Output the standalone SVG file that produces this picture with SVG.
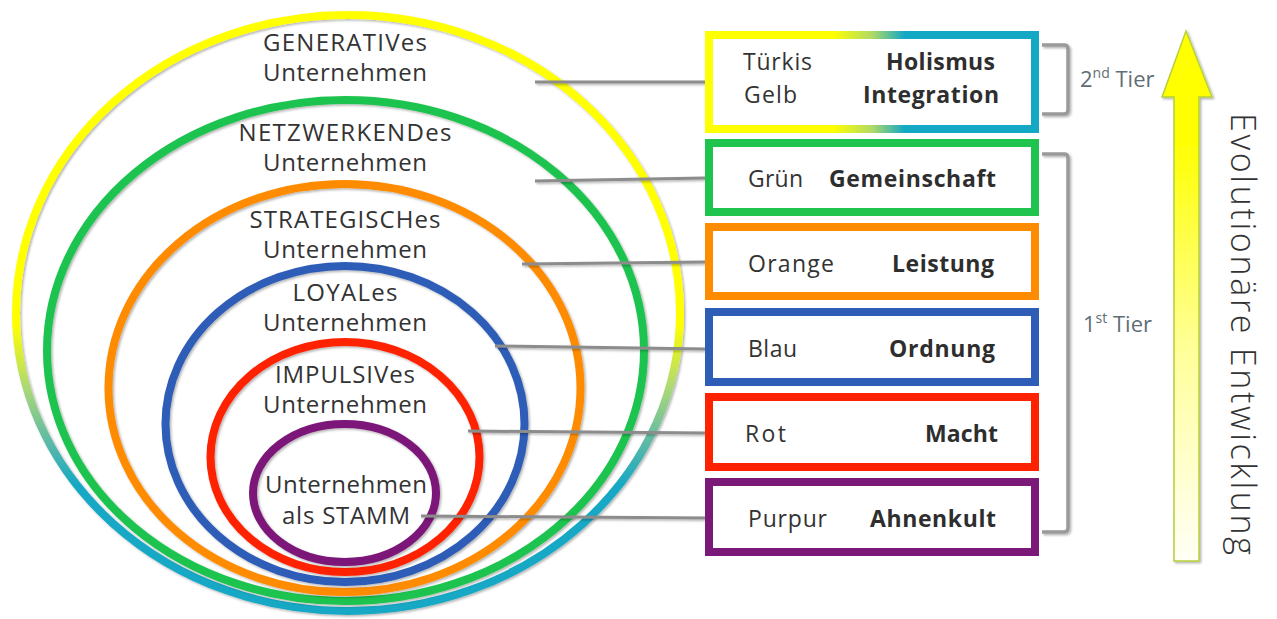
<svg xmlns="http://www.w3.org/2000/svg" width="1277" height="619" viewBox="0 0 1277 619">
<defs>
<filter id="sh" filterUnits="userSpaceOnUse" x="0" y="0" width="1277" height="619">
<feDropShadow dx="1.5" dy="1.5" stdDeviation="1.2" flood-color="#000" flood-opacity="0.3"/>
</filter>
<linearGradient id="ringY" x1="0" y1="0" x2="0" y2="1">
<stop offset="0" stop-color="#ffff00"/>
<stop offset="0.52" stop-color="#ffff00"/>
<stop offset="0.63" stop-color="#a8d77a"/>
<stop offset="0.72" stop-color="#5ab8a8"/>
<stop offset="0.79" stop-color="#14a8c4"/>
<stop offset="1" stop-color="#14a8c4"/>
</linearGradient>
<linearGradient id="boxY" x1="0" y1="0" x2="1" y2="0">
<stop offset="0" stop-color="#ffff00"/>
<stop offset="0.38" stop-color="#ffff00"/>
<stop offset="0.5" stop-color="#b0da66"/>
<stop offset="0.6" stop-color="#14a8c4"/>
<stop offset="1" stop-color="#14a8c4"/>
</linearGradient>
<linearGradient id="arr" x1="0" y1="0" x2="0" y2="1">
<stop offset="0" stop-color="#ffff00"/>
<stop offset="0.2" stop-color="#ffff00"/>
<stop offset="0.6" stop-color="#ffff99"/>
<stop offset="1" stop-color="#fffff6"/>
</linearGradient>
</defs>
<style>
.ring{fill:none;stroke-width:8;filter:url(#sh)}
.box{fill:#fff;stroke-width:8}
.lbl{font-family:"Open Sans","Liberation Sans",sans-serif;font-size:24px;fill:#333;text-anchor:middle}
.bl{font-family:"Open Sans","Liberation Sans",sans-serif;font-size:23px;fill:#333}
.bb{font-family:"Open Sans","Liberation Sans",sans-serif;font-size:23px;fill:#2e2e2e;font-weight:bold;text-anchor:end}
.con{stroke:#8c8c8c;stroke-width:3;fill:none;filter:url(#sh)}
.brk{stroke:#9a9a9a;stroke-width:3.5;fill:none;filter:url(#sh)}
.tier{font-family:"Open Sans","Liberation Sans",sans-serif;font-size:22px;fill:#5f6e75}
.evo{font-family:"Open Sans","Liberation Sans",sans-serif;font-size:34px;font-weight:300;fill:#333}
</style>
<g id="ring-generativ">
<ellipse class="ring" cx="348" cy="313" rx="332" ry="298" stroke="url(#ringY)" stroke-width="7"/>
<text class="lbl" x="345" y="51" textLength="164">GENERATIVes</text>
<text class="lbl" x="345" y="81" textLength="164">Unternehmen</text>
</g>
<g id="ring-netzwerk">
<ellipse class="ring" cx="345.5" cy="350.5" rx="298.5" ry="250.5" stroke="#1fc44f"/>
<text class="lbl" x="345" y="141" textLength="213">NETZWERKENDes</text>
<text class="lbl" x="345" y="171" textLength="164">Unternehmen</text>
</g>
<g id="ring-strategisch">
<ellipse class="ring" cx="344.5" cy="388" rx="236" ry="204" stroke="#ff8c00"/>
<text class="lbl" x="345" y="228" textLength="191">STRATEGISCHes</text>
<text class="lbl" x="345" y="258" textLength="164">Unternehmen</text>
</g>
<g id="ring-loyal">
<ellipse class="ring" cx="345" cy="424" rx="179.5" ry="158" stroke="#2e5db8"/>
<text class="lbl" x="345" y="301" textLength="105">LOYALes</text>
<text class="lbl" x="345" y="331" textLength="164">Unternehmen</text>
</g>
<g id="ring-impulsiv">
<ellipse class="ring" cx="345" cy="457" rx="134.5" ry="115" stroke="#ff2200"/>
<text class="lbl" x="345" y="383" textLength="140">IMPULSIVes</text>
<text class="lbl" x="345" y="413" textLength="164">Unternehmen</text>
</g>
<g id="ring-stamm">
<ellipse class="ring" cx="344.5" cy="493" rx="91.5" ry="69" stroke="#7b1979"/>
<text class="lbl" x="346" y="493" textLength="162">Unternehmen</text>
<text class="lbl" x="346" y="524" textLength="128">als STAMM</text>
</g>
<g id="connectors">
<polyline class="con" points="535,82 705,82"/>
<polyline class="con" points="535,181 705,178"/>
<polyline class="con" points="522,264 705,262"/>
<polyline class="con" points="495,346 705,349"/>
<polyline class="con" points="468,431 705,433"/>
<polyline class="con" points="421,516 705,518"/>
</g>
<g id="box-tuerkis-gelb">
<rect class="box" x="709" y="35" width="326" height="94" stroke="url(#boxY)"/>
<text class="bl" x="743" y="70" textLength="69">Türkis</text>
<text class="bl" x="744" y="103" textLength="53">Gelb</text>
<text class="bb" x="995" y="70" textLength="109">Holismus</text>
<text class="bb" x="999" y="103" textLength="136">Integration</text>
</g>
<g id="box-gruen">
<rect class="box" x="709" y="143" width="326" height="69" stroke="#1fc44f"/>
<text class="bl" x="748" y="187" textLength="55">Grün</text>
<text class="bb" x="996" y="187" textLength="167">Gemeinschaft</text>
</g>
<g id="box-orange">
<rect class="box" x="709" y="227" width="326" height="69" stroke="#ff8c00"/>
<text class="bl" x="748" y="272" textLength="86">Orange</text>
<text class="bb" x="994" y="272" textLength="102">Leistung</text>
</g>
<g id="box-blau">
<rect class="box" x="709" y="312" width="326" height="70" stroke="#2e5db8"/>
<text class="bl" x="748" y="357" textLength="49">Blau</text>
<text class="bb" x="995" y="357" textLength="106">Ordnung</text>
</g>
<g id="box-rot">
<rect class="box" x="709" y="397" width="326" height="70" stroke="#ff2200"/>
<text class="bl" x="745" y="442" textLength="41">Rot</text>
<text class="bb" x="998" y="442" textLength="73">Macht</text>
</g>
<g id="box-purpur">
<rect class="box" x="709" y="482" width="326" height="70" stroke="#7b1979"/>
<text class="bl" x="748" y="527" textLength="79">Purpur</text>
<text class="bb" x="996" y="527" textLength="126">Ahnenkult</text>
</g>
<g id="tier2">
<path class="brk" d="M1042,45 H1064 Q1068,45 1068,49 V110 Q1068,114 1064,114 H1042"/>
<text class="tier" x="1080" y="87">2<tspan font-size="14" dy="-9">nd</tspan><tspan dy="9"> Tier</tspan></text>
</g>
<g id="tier1">
<path class="brk" d="M1042,154 H1064 Q1068,154 1068,158 V528 Q1068,532 1064,532 H1042"/>
<text class="tier" x="1083" y="332">1<tspan font-size="14" dy="-9">st</tspan><tspan dy="9"> Tier</tspan></text>
</g>
<g id="arrow">
<path d="M1186,31 L1212,97 L1199,97 L1199,561 L1174,561 L1174,97 L1162,97 Z" fill="url(#arr)" stroke="#b7d03a" stroke-width="1.5" filter="url(#sh)"/>
<text class="evo" transform="translate(1231,113) rotate(90)" textLength="442">Evolutionäre Entwicklung</text>
</g>
</svg>
